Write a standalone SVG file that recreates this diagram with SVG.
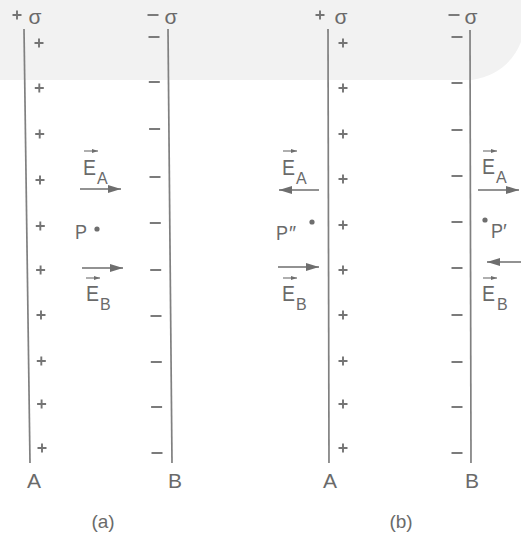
<svg xmlns="http://www.w3.org/2000/svg" width="521" height="533" viewBox="0 0 521 533">
<style>
.t{font-family:"Liberation Sans",Arial,sans-serif;fill:#6a6a6a}
.plate{stroke:#808080;stroke-width:1.7;fill:none}
.sg{stroke:#747474;stroke-width:1.9;fill:none}
.fld{stroke:#6e6e6e;stroke-width:1.7;fill:none}
.vec{stroke:#6e6e6e;stroke-width:1.1;fill:none}
</style>
<defs>
<path id="plus" d="M-4.5,0H4.5M0,-4.5V4.5" class="sg"/>
<path id="minus" d="M-5.5,0H5.5" class="sg"/>
<marker id="ah" markerUnits="userSpaceOnUse" markerWidth="14" markerHeight="9" refX="13" refY="4" orient="auto">
<path d="M0,0L13,4L0,8z" fill="#6e6e6e"/>
</marker>
<marker id="sah" markerUnits="userSpaceOnUse" markerWidth="7" markerHeight="5" refX="6" refY="2" orient="auto">
<path d="M0,0L6,2L0,4z" fill="#6e6e6e"/>
</marker>
</defs>
<rect width="521" height="533" fill="#ffffff"/>
<path d="M0,0H521V42Q508,74 472,80H0Z" fill="#f2f2f2"/>

<g id="plateA-a">
<line class="plate" x1="24" y1="29" x2="30" y2="463"/>
<use href="#plus" x="17" y="15"/>
<text class="t" x="35" y="24" font-size="21" text-anchor="middle">σ</text>
<use href="#plus" x="39" y="43"/><use href="#plus" x="39.3" y="88"/><use href="#plus" x="39.7" y="134"/><use href="#plus" x="40" y="180"/><use href="#plus" x="40.3" y="226"/><use href="#plus" x="40.6" y="270"/><use href="#plus" x="41" y="315"/><use href="#plus" x="41.3" y="361"/><use href="#plus" x="41.6" y="404"/><use href="#plus" x="42" y="448"/>
<text class="t" x="34" y="488" font-size="21" text-anchor="middle">A</text>
</g>

<g id="plateB-a">
<line class="plate" x1="168" y1="29" x2="172" y2="463"/>
<use href="#minus" x="153" y="15"/>
<text class="t" x="171" y="24" font-size="21" text-anchor="middle">σ</text>
<use href="#minus" x="154" y="37"/><use href="#minus" x="154.3" y="82"/><use href="#minus" x="154.6" y="129"/><use href="#minus" x="155" y="177"/><use href="#minus" x="155.3" y="223"/><use href="#minus" x="155.7" y="270"/><use href="#minus" x="156" y="316"/><use href="#minus" x="156.3" y="362"/><use href="#minus" x="156.6" y="407"/><use href="#minus" x="157" y="453"/>
<text class="t" x="175" y="488" font-size="21" text-anchor="middle">B</text>
</g>

<g id="point-P">
<text class="t" x="75" y="239" font-size="20" textLength="12" lengthAdjust="spacingAndGlyphs">P</text>
<circle cx="97" cy="229" r="2.6" fill="#6e6e6e"/>
</g>

<g id="label-a">
<text class="t" x="103" y="528" font-size="19" text-anchor="middle">(a)</text>
</g>

<g id="plateA-b">
<line class="plate" x1="328" y1="29" x2="329" y2="463"/>
<use href="#plus" x="320" y="15"/>
<text class="t" x="341" y="24" font-size="21" text-anchor="middle">σ</text>
<use href="#plus" x="343" y="43"/><use href="#plus" x="343" y="88"/><use href="#plus" x="343" y="134"/><use href="#plus" x="343" y="179"/><use href="#plus" x="343" y="225"/><use href="#plus" x="343" y="270"/><use href="#plus" x="343" y="315"/><use href="#plus" x="343" y="361"/><use href="#plus" x="343" y="404"/><use href="#plus" x="343" y="448"/>
<text class="t" x="330" y="488" font-size="21" text-anchor="middle">A</text>
</g>

<g id="plateB-b">
<line class="plate" x1="470" y1="30" x2="471" y2="463"/>
<use href="#minus" x="454" y="15"/>
<text class="t" x="471" y="24" font-size="21" text-anchor="middle">σ</text>
<use href="#minus" x="457" y="37"/><use href="#minus" x="457" y="83"/><use href="#minus" x="457" y="130"/><use href="#minus" x="457" y="176"/><use href="#minus" x="457" y="222"/><use href="#minus" x="457" y="268"/><use href="#minus" x="457" y="315"/><use href="#minus" x="457" y="362"/><use href="#minus" x="457" y="407"/><use href="#minus" x="457" y="453"/>
<text class="t" x="472" y="488" font-size="21" text-anchor="middle">B</text>
</g>

<g id="point-P2">
<text class="t" x="276" y="240" font-size="20" textLength="12" lengthAdjust="spacingAndGlyphs">P</text>
<text class="t" x="289" y="240" font-size="20">″</text>
<circle cx="312" cy="222" r="2.6" fill="#6e6e6e"/>
</g>

<g id="point-P1">
<circle cx="485" cy="220" r="2.6" fill="#6e6e6e"/>
<text class="t" x="491" y="238" font-size="20" textLength="12" lengthAdjust="spacingAndGlyphs">P</text>
<text class="t" x="503" y="238" font-size="20">′</text>
</g>

<g id="label-b">
<text class="t" x="401" y="528" font-size="19" text-anchor="middle">(b)</text>
</g>

<g id="connectors">
<line class="fld" x1="80" y1="189" x2="121" y2="189" marker-end="url(#ah)"/>
<line class="fld" x1="82" y1="268" x2="123" y2="268" marker-end="url(#ah)"/>
<line class="fld" x1="319" y1="190" x2="279" y2="190" marker-end="url(#ah)"/>
<line class="fld" x1="278" y1="267" x2="319" y2="267" marker-end="url(#ah)"/>
<line class="fld" x1="478" y1="190" x2="519" y2="190" marker-end="url(#ah)"/>
<line class="fld" x1="530" y1="262" x2="487" y2="262" marker-end="url(#ah)"/>
</g>

<g id="field-labels">
<line class="vec" x1="84" y1="151" x2="98" y2="151" marker-end="url(#sah)"/>
<text class="t" x="83" y="175" font-size="22" textLength="13" lengthAdjust="spacingAndGlyphs">E</text>
<text class="t" x="97" y="184" font-size="16">A</text>
<line class="vec" x1="86" y1="278" x2="100" y2="278" marker-end="url(#sah)"/>
<text class="t" x="86" y="301" font-size="22" textLength="13" lengthAdjust="spacingAndGlyphs">E</text>
<text class="t" x="100" y="310" font-size="16">B</text>
<line class="vec" x1="283" y1="151" x2="297" y2="151" marker-end="url(#sah)"/>
<text class="t" x="282" y="175" font-size="22" textLength="13" lengthAdjust="spacingAndGlyphs">E</text>
<text class="t" x="296" y="184" font-size="16">A</text>
<line class="vec" x1="283" y1="278" x2="297" y2="278" marker-end="url(#sah)"/>
<text class="t" x="282" y="301" font-size="22" textLength="13" lengthAdjust="spacingAndGlyphs">E</text>
<text class="t" x="296" y="310" font-size="16">B</text>
<line class="vec" x1="483" y1="151" x2="497" y2="151" marker-end="url(#sah)"/>
<text class="t" x="482" y="174" font-size="22" textLength="13" lengthAdjust="spacingAndGlyphs">E</text>
<text class="t" x="496" y="183" font-size="16">A</text>
<line class="vec" x1="483" y1="278" x2="497" y2="278" marker-end="url(#sah)"/>
<text class="t" x="482" y="301" font-size="22" textLength="13" lengthAdjust="spacingAndGlyphs">E</text>
<text class="t" x="497" y="310" font-size="16">B</text>
</g>
</svg>
